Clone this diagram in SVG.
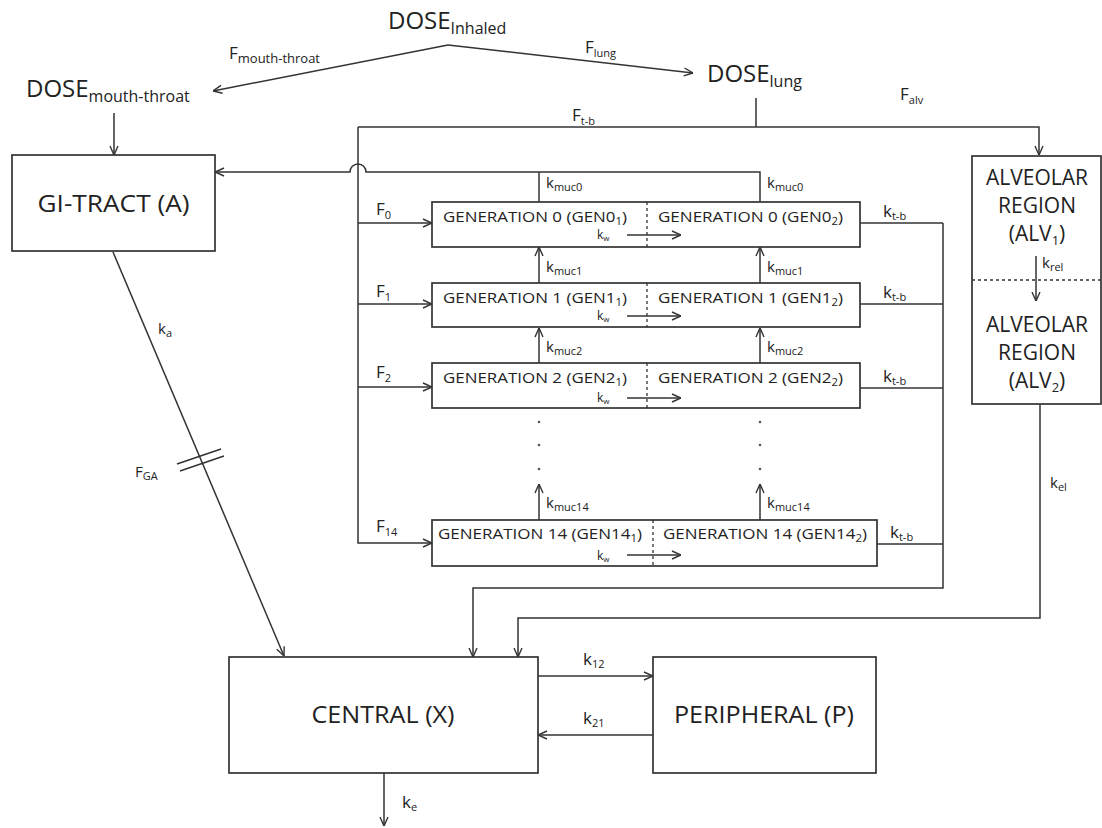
<svg xmlns="http://www.w3.org/2000/svg" width="1102" height="828" viewBox="0 0 1102 828">
<style>
text{font-family:"Open Sans","Liberation Sans",sans-serif;fill:#222}
.box{fill:#fff;stroke:#333;stroke-width:1.7}
.ln{fill:none;stroke:#333;stroke-width:1.5}
.arr{marker-end:url(#ah)}
.dash{fill:none;stroke:#333;stroke-width:1.3;stroke-dasharray:3 3}
.big{font-size:24px}
.bsub{font-size:16px}
.gen{font-size:15px}
.gsub{font-size:10px}
.lab{font-size:17px}
.sub{font-size:11px}
.msub{font-size:13px}
.kl{font-size:15px}
.kw{font-size:12px}
.wsub{font-size:8px}
.alv{font-size:21px;text-anchor:middle}
.node{font-size:24px;text-anchor:middle}
</style>
<defs>
<marker id="ah" viewBox="0 0 10 10" refX="10" refY="5" markerWidth="10" markerHeight="10" markerUnits="userSpaceOnUse" orient="auto">
<path d="M1,1 L10,5 L1,9" fill="none" stroke="#333" stroke-width="1.4"/>
</marker>
</defs>
<rect width="1102" height="828" fill="#fff"/>

<g id="dose-inhaled"><text class="big" x="388" y="29">DOSE<tspan class="bsub" dy="5">Inhaled</tspan></text></g>
<g id="dose-mouth-throat"><text class="big" x="26" y="97">DOSE<tspan class="bsub" dy="5">mouth-throat</tspan></text></g>
<g id="dose-lung"><text class="big" x="707" y="82">DOSE<tspan class="bsub" dy="5">lung</tspan></text></g>

<g id="gi-tract"><rect class="box" x="12" y="155" width="203" height="96"/><text class="node" x="113.5" y="212" textLength="152" lengthAdjust="spacingAndGlyphs">GI-TRACT (A)</text></g>

<g id="gen0">
<rect class="box" x="432" y="202" width="428" height="45"/>
<path class="dash" d="M647,202 L647,247"/>
<text class="gen" x="443" y="222" textLength="184" lengthAdjust="spacingAndGlyphs">GENERATION 0 (GEN0<tspan class="gsub" dy="3">1</tspan><tspan dy="-3">)</tspan></text>
<text class="gen" x="658" y="222" textLength="185" lengthAdjust="spacingAndGlyphs">GENERATION 0 (GEN0<tspan class="gsub" dy="3">2</tspan><tspan dy="-3">)</tspan></text>
</g>
<g id="gen1">
<rect class="box" x="432" y="283" width="428" height="44"/>
<path class="dash" d="M647,283 L647,327"/>
<text class="gen" x="443" y="303" textLength="184" lengthAdjust="spacingAndGlyphs">GENERATION 1 (GEN1<tspan class="gsub" dy="3">1</tspan><tspan dy="-3">)</tspan></text>
<text class="gen" x="658" y="303" textLength="185" lengthAdjust="spacingAndGlyphs">GENERATION 1 (GEN1<tspan class="gsub" dy="3">2</tspan><tspan dy="-3">)</tspan></text>
</g>
<g id="gen2">
<rect class="box" x="432" y="363" width="428" height="45"/>
<path class="dash" d="M647,363 L647,408"/>
<text class="gen" x="443" y="383" textLength="184" lengthAdjust="spacingAndGlyphs">GENERATION 2 (GEN2<tspan class="gsub" dy="3">1</tspan><tspan dy="-3">)</tspan></text>
<text class="gen" x="658" y="383" textLength="185" lengthAdjust="spacingAndGlyphs">GENERATION 2 (GEN2<tspan class="gsub" dy="3">2</tspan><tspan dy="-3">)</tspan></text>
</g>
<g id="gen14">
<rect class="box" x="432" y="520" width="445" height="46"/>
<path class="dash" d="M653,520 L653,566"/>
<text class="gen" x="438" y="539" textLength="204" lengthAdjust="spacingAndGlyphs">GENERATION 14 (GEN14<tspan class="gsub" dy="3">1</tspan><tspan dy="-3">)</tspan></text>
<text class="gen" x="663" y="539" textLength="204" lengthAdjust="spacingAndGlyphs">GENERATION 14 (GEN14<tspan class="gsub" dy="3">2</tspan><tspan dy="-3">)</tspan></text>
</g>

<g id="alveolar">
<rect class="box" x="972" y="156" width="129" height="248"/>
<path class="dash" d="M972,280 L1101,280"/>
<text class="alv" x="1037" y="185">ALVEOLAR</text>
<text class="alv" x="1037" y="213">REGION</text>
<text class="alv" x="1037" y="241">(ALV<tspan font-size="13" dy="4">1</tspan><tspan dy="-4">)</tspan></text>
<text class="alv" x="1037" y="332">ALVEOLAR</text>
<text class="alv" x="1037" y="360">REGION</text>
<text class="alv" x="1037" y="388">(ALV<tspan font-size="13" dy="4">2</tspan><tspan dy="-4">)</tspan></text>
</g>

<g id="central"><rect class="box" x="229" y="657" width="309" height="116"/><text class="node" x="383" y="723" textLength="143" lengthAdjust="spacingAndGlyphs">CENTRAL (X)</text></g>
<g id="peripheral"><rect class="box" x="653" y="657" width="223" height="116"/><text class="node" x="764" y="723" textLength="180" lengthAdjust="spacingAndGlyphs">PERIPHERAL (P)</text></g>

<g id="connectors">
<path class="ln arr" d="M448,45 L213,91"/>
<path class="ln arr" d="M448,45 L693,73"/>
<path class="ln arr" d="M114,113 L114,155"/>
<path class="ln" d="M756,98 L756,127"/>
<path class="ln arr" d="M358,127 L1039,127 L1039,155"/>
<path class="ln arr" d="M358,127 L358,543 L432,543"/>
<path class="ln arr" d="M358,223 L432,223"/>
<path class="ln arr" d="M358,304 L432,304"/>
<path class="ln arr" d="M358,387 L432,387"/>
<path class="ln arr" d="M760,202 L760,172 L366,172 A8,8 0 0 0 350,172 L215,172"/>
<path class="ln" d="M539,202 L539,172"/>
<path class="ln arr" d="M539,283 L539,247"/>
<path class="ln arr" d="M760,283 L760,247"/>
<path class="ln arr" d="M539,363 L539,328"/>
<path class="ln arr" d="M760,363 L760,328"/>
<path class="ln arr" d="M539,520 L539,484"/>
<path class="ln arr" d="M760,520 L760,484"/>
<g fill="#555">
<circle cx="539" cy="422" r="1.3"/><circle cx="539" cy="445" r="1.3"/><circle cx="539" cy="469" r="1.3"/>
<circle cx="760" cy="422" r="1.3"/><circle cx="760" cy="445" r="1.3"/><circle cx="760" cy="469" r="1.3"/>
</g>
<path class="ln" d="M860,223 L943,223"/>
<path class="ln" d="M860,304 L943,304"/>
<path class="ln" d="M860,388 L943,388"/>
<path class="ln" d="M877,544 L943,544"/>
<path class="ln arr" d="M943,223 L943,588 L473,588 L473,657"/>
<path class="ln arr" d="M1040,404 L1040,618 L518,618 L518,657"/>
<path class="ln arr" d="M1036,256 L1036,301"/>
<path class="ln arr" d="M627,235 L681,235"/>
<path class="ln arr" d="M627,316 L681,316"/>
<path class="ln arr" d="M627,398 L681,398"/>
<path class="ln arr" d="M627,555 L681,555"/>
<path class="ln arr" d="M113,252 L284,656"/>
<path class="ln" d="M177,464 L221,449 M180,471 L224,456"/>
<path class="ln arr" d="M538,676 L653,676"/>
<path class="ln arr" d="M653,735 L538,735"/>
<path class="ln arr" d="M384,773 L384,826"/>
</g>

<g id="labels">
<text class="lab" x="229" y="59">F<tspan class="msub" dy="4">mouth-throat</tspan></text>
<text class="lab" x="585" y="53">F<tspan class="sub" dy="4">lung</tspan></text>
<text class="lab" x="572" y="121">F<tspan class="sub" dy="4">t-b</tspan></text>
<text class="lab" x="900" y="100">F<tspan class="sub" dy="4">alv</tspan></text>
<text class="lab" x="376" y="215">F<tspan class="sub" dy="4">0</tspan></text>
<text class="lab" x="376" y="297">F<tspan class="sub" dy="4">1</tspan></text>
<text class="lab" x="376" y="378">F<tspan class="sub" dy="4">2</tspan></text>
<text class="lab" x="376" y="532">F<tspan class="sub" dy="4">14</tspan></text>
<text class="kl" x="546" y="188">k<tspan class="sub" dy="3">muc0</tspan></text>
<text class="kl" x="767" y="188">k<tspan class="sub" dy="3">muc0</tspan></text>
<text class="kl" x="546" y="272">k<tspan class="sub" dy="3">muc1</tspan></text>
<text class="kl" x="767" y="272">k<tspan class="sub" dy="3">muc1</tspan></text>
<text class="kl" x="546" y="352">k<tspan class="sub" dy="3">muc2</tspan></text>
<text class="kl" x="767" y="352">k<tspan class="sub" dy="3">muc2</tspan></text>
<text class="kl" x="546" y="508">k<tspan class="sub" dy="3">muc14</tspan></text>
<text class="kl" x="767" y="508">k<tspan class="sub" dy="3">muc14</tspan></text>
<text class="kw" x="597" y="239">k<tspan class="wsub" dy="2">w</tspan></text>
<text class="kw" x="597" y="320">k<tspan class="wsub" dy="2">w</tspan></text>
<text class="kw" x="597" y="402">k<tspan class="wsub" dy="2">w</tspan></text>
<text class="kw" x="597" y="560">k<tspan class="wsub" dy="2">w</tspan></text>
<text class="lab" x="883" y="217">k<tspan class="sub" dy="3">t-b</tspan></text>
<text class="lab" x="883" y="298">k<tspan class="sub" dy="3">t-b</tspan></text>
<text class="lab" x="883" y="382">k<tspan class="sub" dy="3">t-b</tspan></text>
<text class="lab" x="890" y="538">k<tspan class="sub" dy="3">t-b</tspan></text>
<text class="kl" x="1042" y="268">k<tspan class="sub" dy="3">rel</tspan></text>
<text class="kl" x="1050" y="488">k<tspan class="sub" dy="3">el</tspan></text>
<text class="kl" x="158" y="334">k<tspan class="sub" dy="3">a</tspan></text>
<text class="kl" x="135" y="477">F<tspan class="sub" dy="3">GA</tspan></text>
<text class="lab" x="583" y="665">k<tspan class="sub" dy="3">12</tspan></text>
<text class="lab" x="583" y="724">k<tspan class="sub" dy="3">21</tspan></text>
<text class="lab" x="402" y="808">k<tspan class="sub" dy="3">e</tspan></text>
</g>
</svg>
